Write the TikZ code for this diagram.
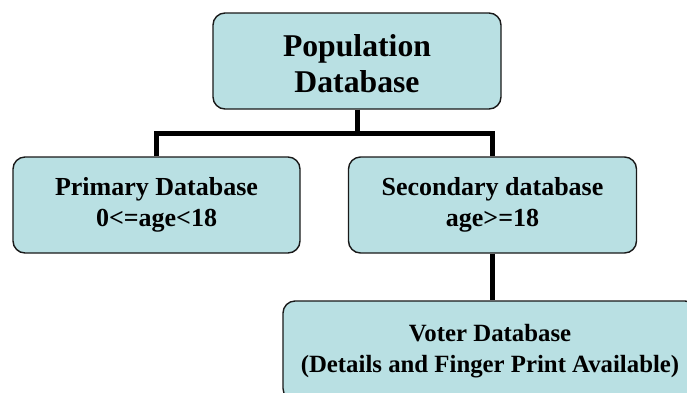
\documentclass[tikz,border=0pt]{standalone}
\usepackage{fontspec}
\setmainfont{Liberation Serif}
\definecolor{boxfill}{RGB}{185,224,227}
\tikzset{
  dbbox/.style={draw=black!90, line width=1.4pt, fill=boxfill, rounded corners=12pt,
                align=center, inner sep=0pt},
  link/.style={line width=5pt, draw=black}
}
\begin{document}
\begin{tikzpicture}[x=1pt,y=-1pt]
\useasboundingbox (0,0) rectangle (687,392);
\clip (0,0) rectangle (687,392);
\node[dbbox, minimum width=288pt, minimum height=96pt,
      font=\bfseries\fontsize{31.7}{36}\selectfont] (pop) at (357,61) {\rule{0pt}{28pt}Population\\Database};
\node[dbbox, minimum width=287pt, minimum height=96pt,
      font=\bfseries\fontsize{26}{31.5}\selectfont] (prim) at (156.5,205) {Primary Database\\0<=age<18};
\node[dbbox, minimum width=288pt, minimum height=96pt,
      font=\bfseries\fontsize{26}{31.5}\selectfont] (sec) at (492.5,205) {Secondary database\\age>=18};
\node[dbbox, minimum width=414pt, minimum height=99.4pt,
      font=\bfseries\fontsize{24.8}{31}\selectfont] (voter) at (490,350.7) {Voter Database\\(Details and Finger Print Available)};
\coordinate (bus) at (357,133);
\draw[link] (pop.south) -- (bus);
\draw[link] (prim.north) |- (bus) -| (sec.north);
\draw[link] (sec.south) -- (sec.south |- voter.north);
\end{tikzpicture}
\end{document}
